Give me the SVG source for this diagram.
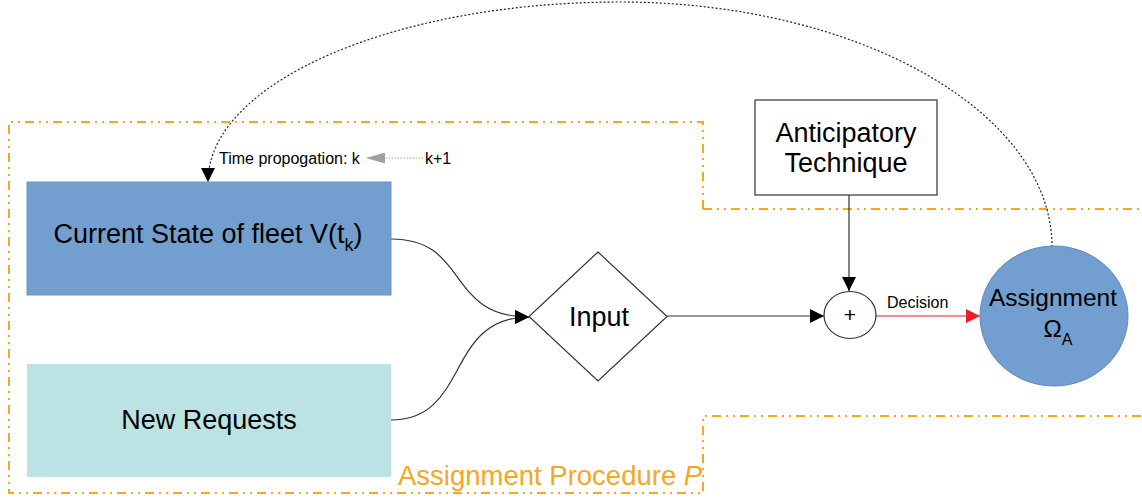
<svg xmlns="http://www.w3.org/2000/svg" width="1142" height="499" viewBox="0 0 1142 499">
  <style>
    text { font-family: "Liberation Sans", Arial, sans-serif; fill: #000; }
    .big { font-size: 27px; text-anchor: middle; }
    .bound { fill: none; stroke: #f9a623; stroke-width: 2; stroke-dasharray: 9 5 2 5 2 5; }
    .conn { fill: none; stroke: #333; stroke-width: 1.2; }
  </style>
  <defs>
    <marker id="arrowBlack" viewBox="0 0 10 10" refX="10" refY="5" markerWidth="14" markerHeight="14" markerUnits="userSpaceOnUse" orient="auto">
      <path d="M0,0 L10,5 L0,10 z" fill="#000"/>
    </marker>
    <marker id="arrowRed" viewBox="0 0 10 10" refX="10" refY="5" markerWidth="14" markerHeight="14" markerUnits="userSpaceOnUse" orient="auto">
      <path d="M0,0 L10,5 L0,10 z" fill="#ee1c24"/>
    </marker>
    <marker id="arrowGray" viewBox="0 0 10 10" refX="10" refY="5" markerWidth="19" markerHeight="11" markerUnits="userSpaceOnUse" orient="auto" preserveAspectRatio="none">
      <path d="M0,0 L10,5 L0,10 z" fill="#a0a0a0"/>
    </marker>
  </defs>

  <!-- Assignment procedure boundary -->
  <g id="boundary">
    <path class="bound" d="M703,209 L703,122 L9,122 L9,493 L703,493 L703,416 L1142,416"/>
    <path class="bound" d="M703,209 L1142,209"/>
    <text x="398" y="485" style="font-size:27.5px; fill:#f9a623;">Assignment Procedure <tspan font-style="italic">P</tspan></text>
  </g>

  <!-- Connectors -->
  <g id="connectors">
    <path class="conn" d="M391,239 C470,239 445,317 529,317" marker-end="url(#arrowBlack)"/>
    <path class="conn" d="M391,420 C470,420 445,317 529,317" marker-end="url(#arrowBlack)"/>
    <path class="conn" d="M667,316 L824,316" marker-end="url(#arrowBlack)"/>
    <path class="conn" d="M849,195 L849,291" marker-end="url(#arrowBlack)"/>
    <path d="M876,316 L980,316" fill="none" stroke="#ee1c24" stroke-width="1.2" marker-end="url(#arrowRed)"/>
    <text x="887" y="308" style="font-size:16px;">Decision</text>
    <!-- feedback loop from assignment back to fleet state -->
    <path d="M1052,247 C1052,112 858,2 620,2 C393,2 208,83 208,182" fill="none" stroke="#222" stroke-width="1.2" stroke-dasharray="2 2" marker-end="url(#arrowBlack)"/>
    <path d="M423,158 L366,158" fill="none" stroke="#a0a0a0" stroke-width="1.2" stroke-dasharray="1.5 1.5" marker-end="url(#arrowGray)"/>
    <text x="219" y="164" style="font-size:16px;">Time propogation: k</text>
    <text x="425" y="164" style="font-size:16px;">k+1</text>
  </g>

  <g id="current-state">
    <rect x="27" y="182" width="364" height="113" fill="#729fcf" stroke="#6a95c4" stroke-width="1"/>
    <text class="big" x="208" y="243">Current State of fleet V(t<tspan font-size="18" dy="8">k</tspan><tspan dy="-8">)</tspan></text>
  </g>

  <g id="new-requests">
    <rect x="27" y="364" width="364" height="113" fill="#bbe3e3"/>
    <text class="big" x="209" y="429">New Requests</text>
  </g>

  <g id="input">
    <path d="M598,252 L667,316.5 L598,381 L529,316.5 z" fill="#fff" stroke="#333" stroke-width="1.2"/>
    <text class="big" x="599" y="326">Input</text>
  </g>

  <g id="anticipatory">
    <rect x="755" y="100" width="182" height="95" fill="#fff" stroke="#333" stroke-width="1.2"/>
    <text class="big" x="846" y="142">Anticipatory</text>
    <text class="big" x="846" y="172">Technique</text>
  </g>

  <g id="combine">
    <ellipse cx="850" cy="315" rx="26" ry="23.5" fill="#fff" stroke="#333" stroke-width="1.2"/>
    <text x="850" y="322" style="font-size:21px; text-anchor:middle;">+</text>
  </g>

  <g id="assignment">
    <ellipse cx="1054" cy="316" rx="74" ry="70" fill="#729fcf" stroke="#5f8bbf" stroke-width="1"/>
    <text x="1053" y="306" style="font-size:24.5px; text-anchor:middle;">Assignment</text>
    <text x="1058" y="337" style="font-size:24.5px; text-anchor:middle;">Ω<tspan font-size="16" dy="8">A</tspan></text>
  </g>
</svg>
